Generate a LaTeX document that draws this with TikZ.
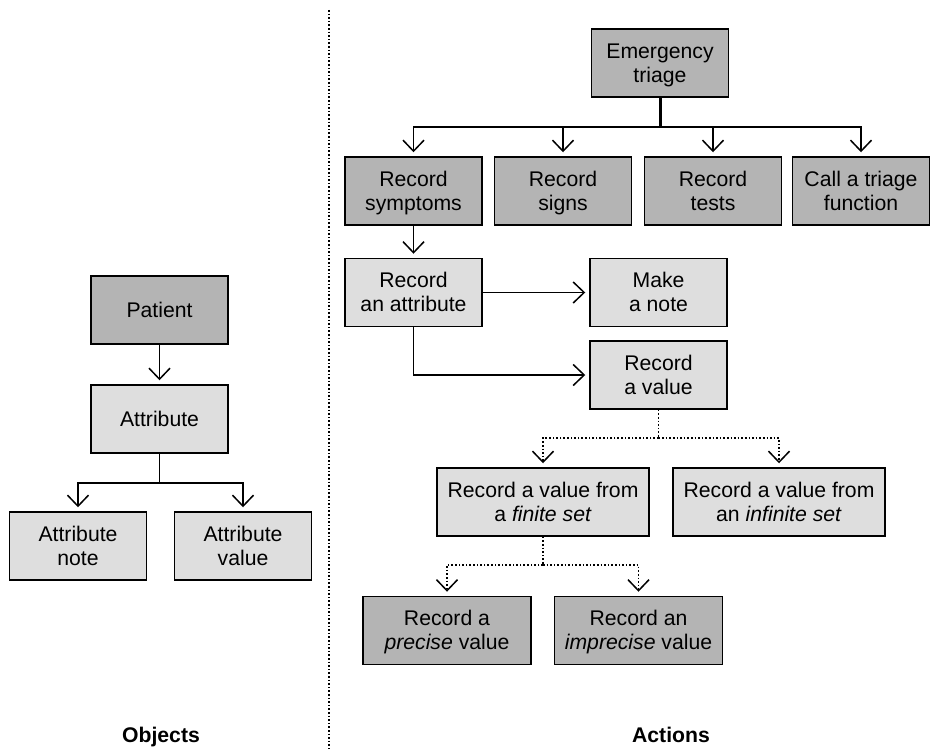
\documentclass[tikz,border=0pt]{standalone}
\usepackage{fontspec}
\setmainfont{Liberation Sans}
\usetikzlibrary{arrows.meta}
\definecolor{darkbox}{HTML}{B4B4B4}
\definecolor{lightbox}{HTML}{DEDEDE}
\newcommand\linestrut{\rule[-2.3pt]{0pt}{12pt}}
\newcommand\twolines[2]{\linestrut#1\\\linestrut#2}
\tikzset{
	box/.style={draw, line width=0.75pt, align=center, minimum width=68.5pt, minimum height=34pt, inner sep=2pt, font=\fontsize{10.6}{12}\selectfont},
	darkfill/.style={box, fill=darkbox},
	lightfill/.style={box, fill=lightbox},
	wide/.style={minimum width=106pt},
	mid/.style={minimum width=84pt},
	conn/.style={line width=0.75pt, -{Straight Barb[length=5.5pt,width=10.5pt]}, shorten >=2pt},
	dotconn/.style={conn, dash pattern=on 0.8pt off 1pt},
	plainline/.style={line width=0.75pt},
	label/.style={anchor=base, font=\fontsize{10.6}{12}\selectfont\bfseries}
}

\begin{document}
\begin{tikzpicture}[x=0.5pt, y=-0.5pt]
				\useasboundingbox (0,0) rectangle (935,749);
				
				% divider
				\draw[line width=0.75pt, dash pattern=on 0.8pt off 1pt] (329,10) -- (329,749);
				
				% objects
				\node[darkfill] (patient) at (159.5,310) {Patient};
				\node[lightfill] (attr) at (159.5,419) {Attribute};
				\node[lightfill] (attrnote) at (78,546) {\twolines{Attribute}{note}};
				\node[lightfill] (attrval) at (243,546) {\twolines{Attribute}{value}};
				
				\draw[conn] (patient) -- (attr);
				\coordinate (objbus) at (159.5,483);
				\draw[plainline] (attr.south) -- (objbus);
				\draw[conn] (objbus) -| (attrnote.north);
				\draw[conn] (objbus) -| (attrval.north);
				
				\node[label] (objects) at (161,742) {Objects};
				
				% actions
				\node[darkfill] (triage) at (660,63) {\twolines{Emergency}{triage}};
				\node[darkfill] (symptoms) at (413.5,191) {\twolines{Record}{symptoms}};
				\node[darkfill] (signs) at (563,191) {\twolines{Record}{signs}};
				\node[darkfill] (tests) at (713,191) {\twolines{Record}{tests}};
				\node[darkfill] (call) at (861,191) {\twolines{Call a triage}{function}};
				
				\coordinate (actbus) at (660,127);
				\draw[line width=1.5pt] (triage.south) -- (actbus);
				\foreach \n in {symptoms,signs,tests,call}
					\draw[conn] (actbus) -| (\n.north);
				
				\node[lightfill] (recattr) at (413.5,292.5) {\twolines{Record}{an attribute}};
				\node[lightfill] (note) at (658.5,292.5) {\twolines{Make}{a note}};
				\node[lightfill] (recval) at (658.5,375) {\twolines{Record}{a value}};
				
				\draw[conn] (symptoms) -- (recattr);
				\draw[conn] (recattr) -- (note);
				\draw[conn] (recattr.south) |- (recval.west);
				
				\node[lightfill, wide] (finite) at (543,502) {\twolines{Record a value from}{a \textit{finite set}}};
				\node[lightfill, wide] (infinite) at (779,502) {\twolines{Record a value from}{an \textit{infinite set}}};
				
				\coordinate (valbus) at (658.5,438);
				\draw[plainline, dash pattern=on 0.8pt off 1pt] (recval.south) -- (valbus);
				\draw[dotconn] (valbus) -| (finite.north);
				\draw[dotconn] (valbus) -| (infinite.north);
				
				\node[darkfill, mid] (precise) at (447,630.5) {\twolines{Record a}{\textit{precise} value}};
				\node[darkfill, mid] (imprecise) at (638.5,630.5) {\twolines{Record an}{\textit{imprecise} value}};
				
				\coordinate (setbus) at (543,565);
				\draw[plainline, dash pattern=on 0.8pt off 1pt] (finite.south) -- (setbus);
				\draw[dotconn] (setbus) -| (precise.north);
				\draw[dotconn] (setbus) -| (imprecise.north);
				
				\node[label] (actions) at (671,742) {Actions};
\end{tikzpicture}
\end{document}
